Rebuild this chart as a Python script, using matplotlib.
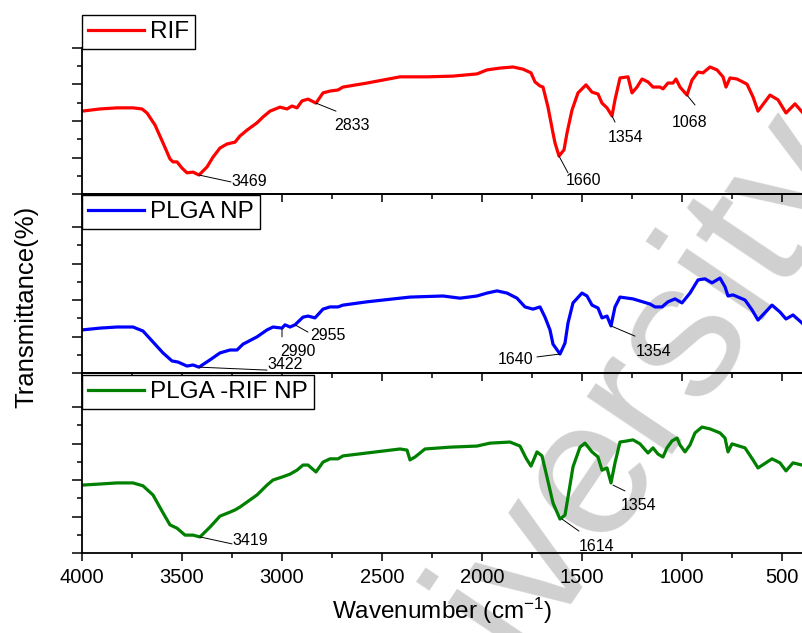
import numpy as np
import matplotlib
matplotlib.use('Agg')
import matplotlib.pyplot as plt
from matplotlib.ticker import FixedLocator, MultipleLocator

plt.rcParams['font.family'] = ['Liberation Sans', 'DejaVu Sans']
plt.rcParams['mathtext.fontset'] = 'custom'
plt.rcParams['mathtext.rm'] = 'Liberation Sans'
plt.rcParams['mathtext.it'] = 'Liberation Sans'

# spectre RIF (nombre d'onde cm-1, transmittance)
wn_rif = [4000, 3910, 3825, 3745, 3700, 3675, 3635, 3595, 3560, 3545, 3525, 3500, 3475, 3445, 3415,
          3375, 3345, 3310, 3275, 3235, 3210, 3175, 3125, 3095, 3060, 3010, 2975, 2950, 2925, 2900,
          2870, 2830, 2795, 2760, 2720, 2695, 2575, 2410, 2275, 2145, 2025, 1975, 1910, 1845, 1795,
          1755, 1735, 1710, 1695, 1670, 1645, 1635, 1615, 1590, 1575, 1550, 1520, 1480, 1450, 1420,
          1400, 1375, 1350, 1335, 1310, 1270, 1250, 1225, 1200, 1170, 1145, 1110, 1095, 1070, 1045,
          1030, 1010, 975, 950, 920, 895, 860, 825, 795, 780, 760, 725, 675, 645, 620,
          560, 520, 480, 435, 400]
t_rif = [22.7, 23.3, 23.6, 23.6, 23.3, 22.2, 18.9, 14.0, 9.6, 8.8, 8.8, 7.1, 5.8, 6.0, 5.2,
         7.4, 10.1, 12.6, 13.7, 14.2, 15.9, 17.5, 19.5, 21.1, 22.7, 23.8, 23.3, 24.1, 23.6, 25.5,
         26.0, 24.9, 27.7, 28.2, 28.5, 29.3, 30.4, 32.1, 32.1, 32.3, 32.9, 34.0, 34.5, 34.8, 34.2,
         33.2, 30.7, 29.6, 29.3, 23.8, 16.7, 14.0, 10.4, 12.1, 16.7, 23.0, 27.7, 29.9, 27.9, 27.4,
         24.9, 23.6, 21.4, 25.8, 31.8, 32.1, 27.7, 29.3, 31.5, 30.7, 29.3, 29.3, 28.8, 30.4, 30.4,
         31.5, 29.3, 27.1, 31.2, 33.4, 33.2, 34.8, 34.0, 32.1, 29.3, 31.8, 31.5, 30.1, 26.6, 22.7,
         27.1, 25.8, 22.2, 24.7, 22.5]

# spectre PLGA NP
wn_plga = [4000, 3910, 3825, 3745, 3695, 3645, 3595, 3550, 3520, 3475, 3445, 3415, 3360, 3310, 3260,
           3225, 3195, 3125, 3075, 3045, 3000, 2985, 2960, 2935, 2895, 2870, 2835, 2795, 2760, 2720,
           2695, 2575, 2410, 2360, 2195, 2110, 2025, 1975, 1925, 1875, 1825, 1785, 1745, 1710, 1685,
           1660, 1645, 1610, 1585, 1570, 1545, 1500, 1475, 1450, 1420, 1400, 1375, 1355, 1335, 1310,
           1245, 1160, 1135, 1100, 1070, 1035, 1000, 960, 920, 885, 850, 810, 785, 770, 745,
           685, 650, 620, 550, 510, 480, 445, 400]
t_plga = [11.8, 12.3, 12.6, 12.6, 11.5, 8.5, 5.5, 3.3, 3.0, 1.9, 2.2, 1.6, 3.6, 5.5, 6.3,
          6.3, 7.9, 9.9, 11.8, 12.6, 12.3, 13.2, 12.6, 13.2, 15.3, 15.6, 15.1, 17.5, 18.1, 18.1,
          18.6, 19.5, 20.5, 20.8, 21.1, 20.5, 21.1, 21.9, 22.5, 21.9, 20.5, 18.1, 17.5, 18.1, 15.3,
          11.8, 7.9, 5.2, 8.2, 13.7, 19.2, 21.9, 21.1, 18.6, 17.8, 15.1, 15.6, 12.9, 18.1, 20.8,
          20.3, 18.9, 18.1, 18.1, 19.5, 20.3, 19.2, 21.9, 25.5, 25.8, 24.7, 26.0, 23.6, 21.1, 21.4,
          20.0, 17.3, 14.5, 18.6, 16.7, 14.8, 15.9, 13.7]

# spectre PLGA -RIF NP
wn_mix = [4000, 3910, 3825, 3745, 3695, 3645, 3595, 3560, 3525, 3485, 3445, 3410, 3360, 3310, 3260,
          3235, 3210, 3125, 3075, 3045, 3000, 2960, 2925, 2895, 2870, 2830, 2795, 2760, 2720, 2695,
          2575, 2410, 2375, 2360, 2335, 2285, 2160, 2025, 1960, 1860, 1810, 1780, 1755, 1725, 1700,
          1675, 1645, 1610, 1585, 1570, 1545, 1510, 1485, 1450, 1420, 1400, 1375, 1355, 1335, 1310,
          1275, 1245, 1210, 1170, 1145, 1120, 1095, 1075, 1050, 1025, 1010, 985, 960, 935, 900,
          860, 810, 785, 770, 750, 685, 645, 620, 550, 510, 480, 445, 400]
t_mix = [18.6, 18.9, 19.2, 19.2, 18.4, 15.9, 11.0, 7.7, 6.8, 4.9, 4.9, 4.4, 7.1, 10.1, 11.2,
         11.8, 12.6, 15.9, 18.6, 20.0, 20.8, 21.6, 22.7, 24.1, 24.1, 22.2, 24.9, 25.8, 25.8, 26.6,
         27.4, 28.5, 28.2, 25.5, 26.3, 28.5, 29.0, 29.3, 30.1, 30.4, 29.3, 26.0, 23.8, 27.7, 26.6,
         20.8, 13.7, 9.3, 10.4, 15.3, 23.6, 29.0, 30.1, 27.7, 26.3, 22.7, 23.3, 19.2, 24.7, 30.4,
         30.7, 31.0, 29.9, 27.4, 28.8, 27.1, 26.3, 28.8, 30.7, 31.5, 29.6, 27.7, 29.6, 32.9, 34.5,
         34.0, 32.9, 31.5, 27.7, 29.9, 28.8, 25.5, 23.3, 25.8, 24.7, 22.5, 24.7, 24.1]

labels = ['RIF', 'PLGA NP', 'PLGA -RIF NP']
couleurs = ['#ff0000', '#0000ff', '#008000']

# pics annotes : (texte, pic x, pic y, fin trait x, fin trait y, texte x, texte y, alignement)
pics = [
    [('3469', 3415, 5.2, 3255, 3.3, 3255, 3.3, 'left'),
     ('2833', 2830, 24.9, 2730, 22.7, 2740, 18.9, 'left'),
     ('1660', 1615, 10.4, 1570, 5.8, 1580, 3.8, 'left'),
     ('1354', 1350, 21.4, 1335, 19.7, 1370, 15.6, 'left'),
     ('1068', 975, 27.1, 935, 24.4, 1050, 19.7, 'left')],
    [('2955', 2935, 13.2, 2870, 11.2, 2860, 10.4, 'left'),
     ('2990', 3000, 12.3, 3000, 9.9, 3010, 5.8, 'left'),
     ('3422', 3415, 1.6, 3075, 0.8, 3075, 2.2, 'left'),
     ('1640', 1610, 5.2, 1725, 4.4, 1745, 3.6, 'right'),
     ('1354', 1355, 12.9, 1235, 10.1, 1230, 6.0, 'left')],
    [('3419', 3410, 4.4, 3250, 2.5, 3250, 3.3, 'left'),
     ('1614', 1600, 9.3, 1515, 6.0, 1515, 1.9, 'left'),
     ('1354', 1345, 18.6, 1285, 17.0, 1305, 12.9, 'left')],
]

W, H = 802, 633
fig = plt.figure(figsize=(W / 100, H / 100), dpi=100)

# filigrane
fig.text(578 / W, 1 - 482 / H, 'University', fontsize=140, rotation=56, color='#d0d0d0',
         ha='center', va='center', zorder=-1)

# panneaux en pixels : (haut, bas)
panneaux = [(48, 194), (194, 373), (373, 553)]
legende_haut = [15, 195, 375]
spectres = [(wn_rif, t_rif), (wn_plga, t_plga), (wn_mix, t_mix)]

for i, (haut, bas) in enumerate(panneaux):
    ax = fig.add_axes([82 / W, 1 - bas / H, 1 - 82 / W, (bas - haut) / H])
    ax.patch.set_alpha(0)
    x, y = spectres[i]
    ax.plot(x, y, color=couleurs[i], lw=2.3, label=labels[i], solid_joinstyle='round')
    ax.set_xlim(4000, 400)
    ax.set_ylim(0, (bas - haut) / 3.65)
    ax.yaxis.set_major_locator(FixedLocator([0, 10, 20, 30, 40]))
    ax.yaxis.set_minor_locator(FixedLocator([5, 15, 25, 35]))
    ax.xaxis.set_major_locator(MultipleLocator(500))
    ax.xaxis.set_minor_locator(MultipleLocator(250))
    ax.tick_params(axis='y', which='major', direction='out', length=7, width=1.1, labelleft=False)
    ax.tick_params(axis='y', which='minor', direction='out', length=3.3, width=1.1)
    ax.tick_params(axis='x', which='major', direction='out', length=6, width=1.1, labelsize=14.5, pad=5)
    ax.tick_params(axis='x', which='minor', direction='out', length=3.6, width=1.1)
    ax.spines['right'].set_visible(False)
    if i == 0:
        ax.spines['top'].set_visible(False)
    for s in ax.spines.values():
        s.set_linewidth(1.3)
    if i < 2:
        ax.tick_params(axis='x', labelbottom=False)
    else:
        ax.set_xlabel('Wavenumber (cm$^{-1}$)', fontsize=17.5, labelpad=6)
    leg = ax.legend(loc='upper left', bbox_to_anchor=(82 / W, 1 - legende_haut[i] / H),
                    bbox_transform=fig.transFigure, fontsize=17.5, frameon=True, fancybox=False,
                    edgecolor='black', borderaxespad=0, borderpad=0.25, handlelength=2.3,
                    handletextpad=0.25, framealpha=1)
    leg.get_frame().set_linewidth(1.0)
    for txt, px, py, lx, ly, tx, ty, ha in pics[i]:
        ax.annotate('', xy=(px, py), xytext=(lx, ly),
                    arrowprops=dict(arrowstyle='-', lw=0.7, color='k', shrinkA=0, shrinkB=0))
        ax.text(tx, ty, txt, fontsize=11.5, ha=ha, va='center')

fig.text(26 / W, 1 - 307 / H, 'Transmittance(%)', fontsize=18.5, rotation=90,
         ha='center', va='center')

fig.savefig('out.png', dpi=100)
